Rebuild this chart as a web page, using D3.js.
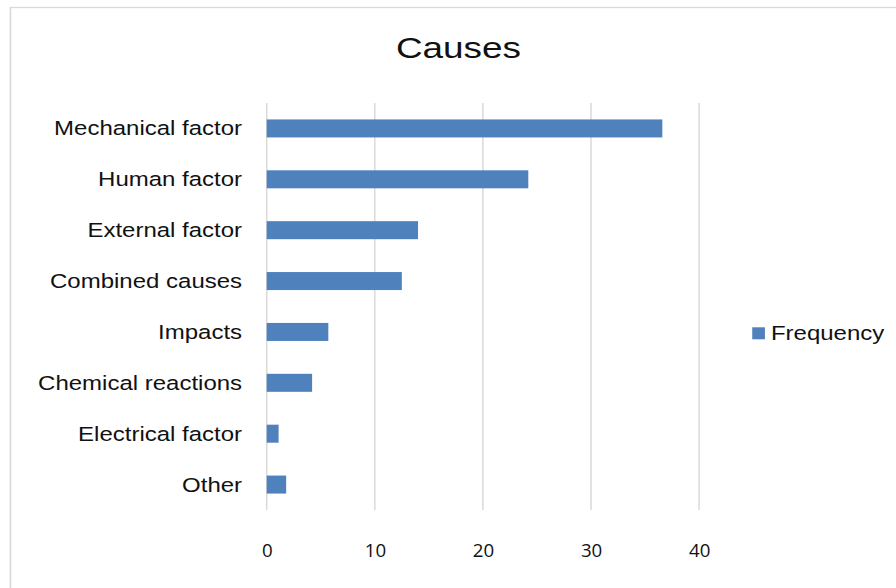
<!DOCTYPE html>
<html>
<head>
<meta charset="utf-8">
<script src="https://cdn.jsdelivr.net/npm/d3@7"></script>
<style>
  body { margin: 0; background: #fff; }
</style>
</head>
<body>
<svg id="bar_chart"></svg>
<script>
// data
const causes = ["Mechanical factor", "Human factor", "External factor", "Combined causes",
  "Impacts", "Chemical reactions", "Electrical factor", "Other"];
const frequency = [36.6, 24.2, 14.0, 12.5, 5.7, 4.2, 1.1, 1.8];
const xTicks = [0, 10, 20, 30, 40];
const seriesName = "Frequency";
const chartTitle = "Causes";

// the picture is stretched sideways, so draw on a narrower canvas and stretch it
const outW = 896, outH = 588;
const W = 728, H = 588;

var svg = d3.select("#bar_chart")
  .attr("width", outW)
  .attr("height", outH)
  .attr("viewBox", `0 0 ${W} ${H}`)
  .attr("preserveAspectRatio", "none");

// chart area border
svg.append("rect")
  .attr("x", 8.5).attr("y", 7.5)
  .attr("width", 800).attr("height", 700)
  .style("fill", "#fff")
  .style("stroke", "#d9d9d9")
  .style("stroke-width", 1.3);

const x = d3.scaleLinear()
  .domain([0, 40])
  .range([216.7, 568]);

const y = d3.scaleBand()
  .domain(causes)
  .range([103, 510])
  .paddingInner(0.646)
  .paddingOuter(0.323);

// gridlines
svg.append("g")
  .selectAll("line")
  .data(xTicks)
  .join("line")
  .attr("x1", d => x(d)).attr("x2", d => x(d))
  .attr("y1", 103).attr("y2", 510)
  .style("stroke", "#d9d9d9")
  .style("stroke-width", 1.2);

// bars
svg.append("g")
  .selectAll("rect")
  .data(frequency)
  .join("rect")
  .attr("x", x(0))
  .attr("y", (d, i) => y(causes[i]))
  .attr("width", d => x(d) - x(0))
  .attr("height", y.bandwidth())
  .style("fill", "#4f81bd");

// x axis labels (no line, no ticks)
var xAxis = svg.append("g")
  .attr("transform", "translate(0, 510)")
  .call(d3.axisBottom(x).tickValues(xTicks).tickSize(0).tickPadding(0));
xAxis.select(".domain").remove();
xAxis.selectAll("text")
  .attr("y", 0)
  .attr("dy", null)
  .attr("transform", "translate(0, 46.5) scale(0.8,1)")
  .style("font-family", "'Open Sans', sans-serif")
  .style("font-size", "19px")
  .style("fill", "#111");

// category labels
var yAxis = svg.append("g")
  .attr("transform", `translate(${x(0)}, 0)`)
  .call(d3.axisLeft(y).tickSize(0).tickPadding(20));
yAxis.select(".domain").remove();
yAxis.selectAll("text")
  .attr("dy", "0.36em")
  .style("font-family", "'Liberation Sans', Arial, sans-serif")
  .style("font-size", "19.5px")
  .style("fill", "#111");

// title
svg.append("text")
  .attr("x", 372.5)
  .attr("y", 58)
  .attr("text-anchor", "middle")
  .style("font-family", "'Liberation Sans', Arial, sans-serif")
  .style("font-size", "30px")
  .style("fill", "#111")
  .text(chartTitle);

// legend
var legend = svg.append("g");
legend.append("rect")
  .attr("x", 611.2).attr("y", 327.3)
  .attr("width", 10.3).attr("height", 12)
  .style("fill", "#4f81bd");
legend.append("text")
  .attr("x", 626.4)
  .attr("y", 340.5)
  .style("font-family", "'Liberation Sans', Arial, sans-serif")
  .style("font-size", "19.5px")
  .style("fill", "#111")
  .text(seriesName);
</script>
</body>
</html>
